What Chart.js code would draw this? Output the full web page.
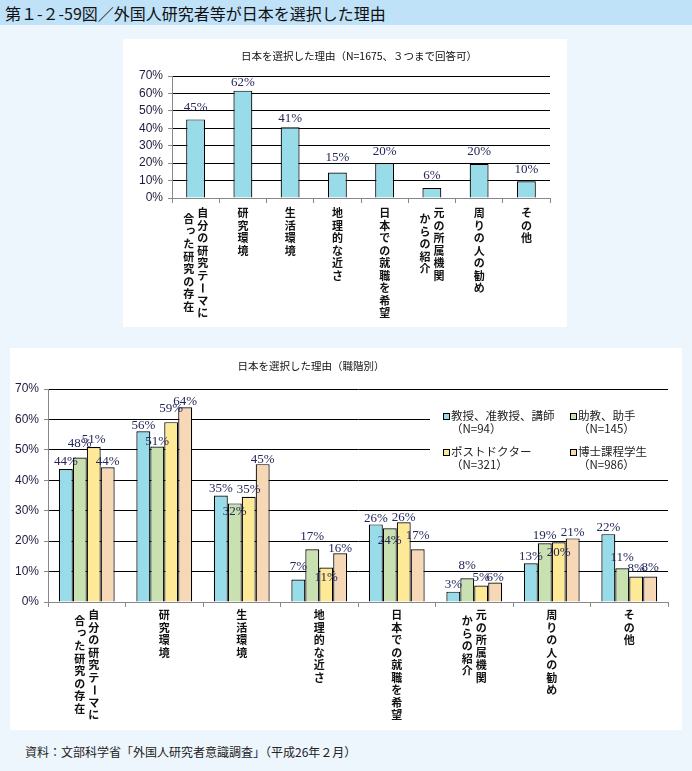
<!DOCTYPE html>
<html>
<head>
<meta charset="utf-8">
<script src="https://cdn.jsdelivr.net/npm/chart.js@4.4.1/dist/chart.umd.min.js"></script>
<style>
  body { margin:0; width:692px; height:771px; background:#eef6fd; position:relative; overflow:hidden;
         font-family:'Noto Sans CJK JP', sans-serif; color:#111; }
  #hdr { position:absolute; left:0; top:0; width:692px; height:25px; background:#bfe2f9;
         font-size:16px; line-height:26px; padding-left:5px; box-sizing:border-box; }
  .panel { position:absolute; background:#fff; }
  .ttl { position:absolute; font-size:10.5px; white-space:nowrap; transform:translate(-50%,-50%); color:#111; }
  #src { position:absolute; left:25px; top:743px; font-size:12px; white-space:nowrap; color:#222; }
  canvas { position:absolute; left:0; top:0; }
</style>
</head>
<body>
<div id="hdr">第１-２-59図／外国人研究者等が日本を選択した理由</div>

<div class="panel" style="left:123px; top:39px; width:444px; height:288px;">
  <canvas id="c1" width="444" height="288"></canvas>
  <div class="ttl" style="left:236px; top:16px;">日本を選択した理由（N=1675、３つまで回答可）</div>
</div>

<div class="panel" style="left:10px; top:348px; width:672px; height:382px;">
  <canvas id="c2" width="672" height="382"></canvas>
  <div class="ttl" style="left:301px; top:17px;">日本を選択した理由（職階別）</div>
</div>

<div id="src">資料：文部科学省「外国人研究者意識調査」（平成26年２月）</div>

<script>
// カテゴリ（縦書き、1列目が右）
var categoryLines = [
  ['自分の研究テーマに', '合った研究の存在'],
  ['研究環境'],
  ['生活環境'],
  ['地理的な近さ'],
  ['日本での就職を希望'],
  ['元の所属機関', 'からの紹介'],
  ['周りの人の勧め'],
  ['その他']
];
var categories = categoryLines.map(l => l.join(''));

// 全体 (N=1675)
var totalValues = [45.1, 61.6, 40.6, 14.6, 20.0, 5.7, 19.6, 9.6];

// 職階別
var seriesNames = ['教授、准教授、講師', '助教、助手', 'ポストドクター', '博士課程学生'];
var seriesN = ['（N=94）', '（N=145）', '（N=321）', '（N=986）'];
var profValues    = [43.7, 56.1, 35.0, 7.4, 25.5, 3.4, 12.7, 22.3];
var assistValues  = [47.5, 51.1, 32.4, 17.3, 24.2, 7.8, 19.3, 11.1];
var postdocValues = [50.9, 59.1, 34.6, 11.3, 26.2, 5.4, 19.6, 8.4];
var doctorValues  = [44.3, 64.0, 45.3, 16.0, 17.3, 6.4, 20.9, 8.4];

var yTicks = [0, 10, 20, 30, 40, 50, 60, 70];

var colors = ['#98dbe9', '#c9e0b0', '#feea96', '#f6d8b7'];

// ラベルのずらし（棒の上端からの距離）
var labelShift1 = [-12, -8, -9, -15, -12, -12, -12, -12];
var labelShift2 = [
  [-7, -6, -7, -13, -6, -7, -7, -7],
  [-14, -5, 8, -13, 12, -13, -8, -11],
  [-8, -14, -7, 10, -5, -8, 10, -8],
  [-6, -6, -5, -5, -14, -5, -6, -9]
];

var valueLabels = {
  id: 'valueLabels',
  afterDatasetsDraw(chart, args, opts) {
    var ctx = chart.ctx;
    ctx.save();
    ctx.font = "13px 'Liberation Serif'";
    ctx.fillStyle = '#23275a';
    ctx.textAlign = 'center';
    ctx.textBaseline = 'middle';
    chart.data.datasets.forEach(function(ds, di) {
      var meta = chart.getDatasetMeta(di);
      meta.data.forEach(function(bar, i) {
        var s = opts.shifts[di][i];
        ctx.fillText(Math.round(ds.data[i]) + '%', bar.x, bar.y + s);
      });
    });
    ctx.restore();
  }
};

var verticalLabels = {
  id: 'verticalLabels',
  afterDraw(chart, args, opts) {
    var ctx = chart.ctx;
    var xs = chart.scales.x;
    ctx.save();
    ctx.font = "bold 11px 'Noto Sans CJK JP'";
    ctx.fillStyle = '#111';
    ctx.textAlign = 'center';
    ctx.textBaseline = 'middle';
    categoryLines.forEach(function(lines, i) {
      var cx = xs.getPixelForValue(i);
      lines.forEach(function(text, li) {
        var colX = lines.length == 1 ? cx : cx + (li == 0 ? 7 : -7);
        var y0 = chart.chartArea.bottom + opts.top + li * 6;
        Array.from(text).forEach(function(ch, k) {
          var cy = y0 + k * 12.5;
          if (ch == 'ー') {
            ctx.save();
            ctx.translate(colX, cy);
            ctx.rotate(Math.PI / 2);
            ctx.fillText(ch, 0, 0);
            ctx.restore();
          } else if (ch == 'っ') {
            ctx.fillText(ch, colX + 2, cy - 2);
          } else {
            ctx.fillText(ch, colX, cy);
          }
        });
      });
    });
    ctx.restore();
  }
};

var boxLegend = {
  id: 'boxLegend',
  beforeDatasetsDraw(chart, args, opts) {
    if (!opts.show) return;
    var ctx = chart.ctx;
    ctx.save();
    ctx.fillStyle = '#fff';
    ctx.fillRect(420, 58, 240, 68);
    ctx.font = "11.5px 'Noto Sans CJK JP'";
    ctx.textBaseline = 'middle';
    ctx.textAlign = 'left';
    var cols = [436, 563];
    var rows = [68, 104];
    chart.data.datasets.forEach(function(ds, i) {
      var x = cols[i % 2], y = rows[Math.floor(i / 2)];
      ctx.fillStyle = ds.backgroundColor;
      ctx.fillRect(x - 3, y - 3, 6, 6);
      ctx.strokeStyle = '#000';
      ctx.lineWidth = 1;
      ctx.strokeRect(x - 3 + 0.5, y - 3 + 0.5, 6, 6);
      ctx.fillStyle = '#222';
      ctx.fillText(seriesNames[i], x + 5, y);
      ctx.fillText(seriesN[i], x + 5, y + 13);
    });
    ctx.restore();
  }
};

function makeScales(yWidth, xHeight) {
  return {
    x: {
      grid: { drawOnChartArea: false, offset: true, tickLength: 5, color: '#888', tickColor: '#888' },
      border: { color: '#888' },
      ticks: { display: false },
      afterFit: function(s) { s.height = xHeight; }
    },
    y: {
      min: yTicks[0],
      max: yTicks[yTicks.length - 1],
      afterBuildTicks: function(s) { s.ticks = yTicks.map(v => ({ value: v })); },
      ticks: {
        callback: function(v) { return v + '%'; },
        font: { family: 'Liberation Sans', size: 12 },
        color: '#1c1c3c',
        padding: 5
      },
      grid: {
        color: function(c) { return c.tick && c.tick.value === 0 ? 'rgba(0,0,0,0)' : '#000'; },
        tickColor: '#888',
        tickLength: 4,
        lineWidth: 1
      },
      border: { color: '#888' },
      afterFit: function(s) { s.width = yWidth; }
    }
  };
}

new Chart(document.getElementById('c1'), {
  type: 'bar',
  data: {
    labels: categories,
    datasets: [{
      label: '全体',
      data: totalValues,
      backgroundColor: colors[0],
      borderColor: '#000',
      borderWidth: 1.2,
      barPercentage: 0.8,
      categoryPercentage: 0.5
    }]
  },
  options: {
    responsive: false,
    animation: false,
    layout: { padding: { top: 37, right: 17, left: 0, bottom: 0 } },
    scales: makeScales(49, 129),
    plugins: {
      legend: { display: false },
      tooltip: { enabled: false },
      valueLabels: { shifts: [labelShift1] },
      verticalLabels: { top: 15 },
      boxLegend: { show: false }
    }
  },
  plugins: [valueLabels, verticalLabels, boxLegend]
});

var groupData = [profValues, assistValues, postdocValues, doctorValues];

new Chart(document.getElementById('c2'), {
  type: 'bar',
  data: {
    labels: categories,
    datasets: groupData.map(function(d, i) {
      return {
        label: seriesNames[i],
        data: d,
        backgroundColor: colors[i],
        borderColor: '#000',
        borderWidth: 1.2,
        barPercentage: 1,
        categoryPercentage: 0.72
      };
    })
  },
  options: {
    responsive: false,
    animation: false,
    layout: { padding: { top: 41, right: 14, left: 0, bottom: 0 } },
    scales: makeScales(38, 128),
    plugins: {
      legend: { display: false },
      tooltip: { enabled: false },
      valueLabels: { shifts: labelShift2 },
      verticalLabels: { top: 13 },
      boxLegend: { show: true }
    }
  },
  plugins: [valueLabels, verticalLabels, boxLegend]
});
</script>
</body>
</html>
